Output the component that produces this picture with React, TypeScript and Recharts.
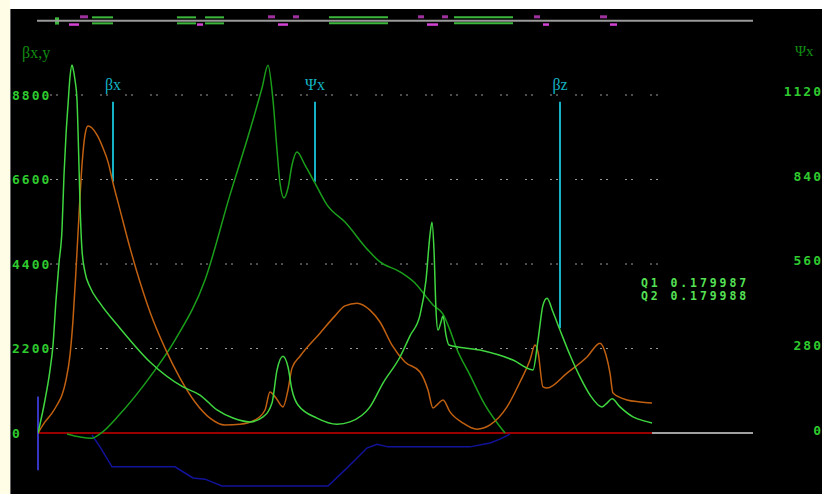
import { ComposedChart, Line, XAxis, YAxis, ReferenceLine, ReferenceArea, ReferenceDot } from 'recharts';

const S_MAX = 71.5;
const DATA_END = 61.4;

const leftTicks = [0, 2200, 4400, 6600, 8800];
const psiTicks = [0, 280, 560, 840, 1120];

// [s, value] pairs, beta in left axis units
const betaX: [number, number][] = [
  [0, 0], [0.7, 290], [1.4, 520], [1.9, 730], [2.4, 990], [2.8, 1380], [3.2, 2030], [3.5, 2940],
  [3.8, 4240], [4.1, 5680], [4.4, 6980], [4.7, 7760], [5.0, 7990], [5.4, 7940], [5.9, 7760],
  [6.5, 7420], [7.0, 7060], [7.5, 6510], [8.2, 5810], [9.2, 4820], [10.2, 3930], [11.2, 3150],
  [12.7, 2210], [14.2, 1430], [15.7, 810], [17.2, 390], [18.7, 210], [20.2, 230], [21.7, 340],
  [22.7, 600], [23.2, 1070], [23.8, 910], [24.5, 680], [25.0, 1120], [25.4, 1690], [26.2, 2000],
  [28.2, 2600], [29.7, 3050], [30.7, 3310], [31.9, 3380], [33.2, 3200], [34.2, 2890], [35.4, 2290],
  [36.7, 1850], [38.2, 1590], [39.0, 1120], [39.5, 650], [40.0, 760], [40.5, 860], [41.2, 550],
  [42.5, 260], [43.9, 100], [45.2, 210], [46.9, 680], [48.2, 1330], [49.2, 1900], [49.7, 2290],
  [50.0, 2110], [50.5, 1200], [50.9, 1170], [52.9, 1560], [54.9, 1980], [56.2, 2340], [56.8, 2030],
  [57.2, 1560], [57.5, 1040], [58.9, 860], [60.2, 810], [61.4, 780],
];

const betaZ: [number, number][] = [
  [0, 0], [0.7, 860], [1.2, 1640], [1.5, 2290], [1.8, 3460], [2.1, 4430], [2.4, 5290], [2.6, 6720],
  [2.8, 7760], [3.0, 8540], [3.2, 9270], [3.4, 9580], [3.5, 9500], [3.7, 9190], [3.9, 8670],
  [4.0, 7890], [4.1, 6930], [4.2, 5990], [4.4, 4760], [4.7, 4190], [5.2, 3800], [6.2, 3380],
  [8.2, 2730], [11.2, 1850], [14.5, 1200], [16.2, 990], [17.9, 600], [19.5, 390], [21.2, 290],
  [22.5, 420], [23.4, 780], [23.9, 1640], [24.5, 2000], [25.0, 1720], [25.4, 1120], [26.0, 730],
  [27.9, 390], [29.9, 230], [31.2, 290], [33.2, 680], [34.5, 1300], [36.2, 1980], [37.2, 2530],
  [38.2, 3070], [38.8, 3980], [39.2, 5160], [39.4, 5490], [39.6, 4760], [39.8, 3200], [40.0, 2680],
  [40.3, 2890], [40.5, 3050], [40.8, 2550], [41.1, 2290], [44.2, 2160], [47.5, 1900], [49.5, 1640],
  [50.0, 2420], [50.5, 3330], [50.9, 3510], [51.5, 3150], [52.2, 2680], [53.2, 2030], [54.2, 1460],
  [55.2, 990], [56.4, 680], [56.9, 780], [57.4, 890], [58.2, 680], [59.5, 420], [60.7, 310], [61.4, 260],
];

// phase advance, right axis units
const psiX: [number, number][] = [
  [2.9, -13], [4.2, -23], [5.4, -27], [6.2, -13], [8.2, 53], [11.2, 176], [13.7, 298], [16.7, 497],
  [19.2, 779], [21.2, 994], [22.4, 1133], [23.0, 1209], [23.5, 1093], [23.9, 928], [24.2, 818],
  [24.6, 769], [25.0, 802], [25.4, 878], [25.9, 921], [26.7, 878], [27.7, 818], [28.9, 746],
  [30.7, 689], [33.0, 596], [34.2, 557], [36.2, 524], [37.9, 480], [38.7, 447], [39.5, 414],
  [40.5, 384], [41.2, 331], [41.8, 275], [43.2, 182], [44.7, 83], [45.7, 33], [46.7, -10],
];

const dispersion: [number, number][] = [
  [5.4, -50], [6.2, -360], [7.4, -880], [13.7, -880], [14.7, -1040], [15.5, -1170], [16.7, -1200],
  [18.4, -1380], [29.0, -1380], [30.7, -960], [32.9, -390], [33.9, -290], [35.0, -360], [43.2, -360],
  [45.2, -260], [46.2, -160], [47.2, -30],
];

// lattice along the top
const quads: [number, number][] = [[5.4, 7.5], [13.9, 15.8], [16.7, 18.6], [29.1, 35.0], [41.6, 47.5]];
const upperKicks: [number, number][] = [[4.2, 5.0], [23.0, 23.7], [25.5, 26.1], [38.0, 38.6], [40.4, 41.0], [49.6, 50.2], [56.2, 56.9]];
const lowerKicks: [number, number][] = [[3.1, 4.1], [15.9, 16.5], [24.0, 25.0], [38.9, 40.0], [50.5, 51.1], [57.2, 57.9]];

const markers = [
  { name: 'βx', s: 7.5, end: 6540 },
  { name: 'Ψx', s: 27.7, end: 6540 },
  { name: 'βz', s: 52.2, end: 2730 },
];

const tunes = [['Q1', '0.179987'], ['Q2', '0.179988']];

const rows = (pts: [number, number][]) => pts.map(([s, v]) => ({ s, v }));

const MONO = '"DejaVu Sans Mono", monospace';
const SERIF = '"Liberation Serif", "DejaVu Serif", serif';
const TICK_GREEN = '#2fca2f';
const CYAN = '#14b2c4';
const MARK_TOP = 8624;
const LAT = { axis: 10735, boxTop: 10822, boxBottom: 10665, upper: 10836, lower: 10634 };

function LeftTick({ y, payload }: any) {
  return (
    <text x={12} y={y} dy={4.5} fill={TICK_GREEN} fontFamily={MONO} fontWeight="bold" fontSize={13} letterSpacing={2}>
      {payload.value}
    </text>
  );
}

function RightTick({ y, payload }: any) {
  return (
    <text x={823} y={y} dy={4.5} textAnchor="end" fill={TICK_GREEN} fontFamily={MONO} fontWeight="bold" fontSize={13} letterSpacing={2}>
      {payload.value}
    </text>
  );
}

export default function App() {
  return (
    <div style={{ position: 'fixed', left: 0, top: 0, width: 822, height: 494, background: '#fff', overflow: 'hidden' }}>
      <div style={{ position: 'absolute', left: 0, top: 0, width: 10, height: 494, background: '#fffde6' }} />
      <div style={{ position: 'absolute', left: 10, top: 9, right: 0, bottom: 0, background: '#000', borderLeft: '1px solid #666' }} />
      <div style={{ position: 'absolute', left: 0, top: 0 }}>
        <ComposedChart width={822} height={495} margin={{ top: 10.5, right: 0, bottom: 0.5, left: 0 }}>
          <XAxis type="number" dataKey="s" domain={[0, S_MAX]} hide allowDataOverflow />
          <YAxis
            yAxisId="left"
            width={38}
            domain={[-1600, 11000]}
            ticks={leftTicks}
            interval={0}
            axisLine={false}
            tickLine={false}
            tick={LeftTick}
            allowDataOverflow
          />
          <YAxis
            yAxisId="psi"
            orientation="right"
            width={69}
            domain={[-213.7, 1390]}
            ticks={psiTicks}
            interval={0}
            axisLine={false}
            tickLine={false}
            tick={RightTick}
            allowDataOverflow
          />

          {leftTicks.filter((t) => t > 0).map((t) => (
            <ReferenceLine
              key={t}
              yAxisId="left"
              segment={[{ x: 1.2, y: t }, { x: 62, y: t }]}
              stroke="#9a9a9a"
              strokeDasharray="2 4 2 17"
            />
          ))}

          {/* lattice */}
          <ReferenceLine yAxisId="left" segment={[{ x: -0.1, y: LAT.axis }, { x: S_MAX, y: LAT.axis }]} stroke="#9a9a9a" strokeWidth={2} ifOverflow="visible" />
          <ReferenceArea yAxisId="left" x1={1.7} x2={2.1} y1={LAT.lower} y2={LAT.boxTop} fill="#3cb83c" fillOpacity={1} stroke="none" ifOverflow="visible" />
          {quads.map(([a, b], i) => [
            <ReferenceLine key={`qt${i}`} yAxisId="left" segment={[{ x: a, y: LAT.boxTop }, { x: b, y: LAT.boxTop }]} stroke="#3cb83c" strokeWidth={2} />,
            <ReferenceLine key={`qb${i}`} yAxisId="left" segment={[{ x: a, y: LAT.boxBottom }, { x: b, y: LAT.boxBottom }]} stroke="#3cb83c" strokeWidth={2} />,
          ])}
          {upperKicks.map(([a, b], i) => (
            <ReferenceLine key={`u${i}`} yAxisId="left" segment={[{ x: a, y: LAT.upper }, { x: b, y: LAT.upper }]} stroke="#a032a0" strokeWidth={3} />
          ))}
          {lowerKicks.map(([a, b], i) => (
            <ReferenceLine key={`l${i}`} yAxisId="left" segment={[{ x: a, y: LAT.lower }, { x: b, y: LAT.lower }]} stroke="#d444d4" strokeWidth={2.5} />
          ))}

          {/* baseline */}
          <ReferenceLine yAxisId="left" segment={[{ x: 0, y: 0 }, { x: DATA_END, y: 0 }]} stroke="#990000" strokeWidth={2} />
          <ReferenceLine yAxisId="left" segment={[{ x: DATA_END, y: 0 }, { x: S_MAX, y: 0 }]} stroke="#a0a0a0" strokeWidth={2} />
          <ReferenceLine yAxisId="left" segment={[{ x: 0, y: 950 }, { x: 0, y: -970 }]} stroke="#3636c2" strokeWidth={2} />

          {/* markers */}
          {markers.map((m) => (
            <ReferenceLine key={m.name} yAxisId="left" segment={[{ x: m.s, y: MARK_TOP }, { x: m.s, y: m.end }]} stroke={CYAN} strokeWidth={2} />
          ))}
          {markers.map((m) => (
            <ReferenceDot
              key={`d${m.name}`}
              yAxisId="left"
              x={m.s}
              y={MARK_TOP}
              r={0}
              fill="none"
              stroke="none"
              label={{ value: m.name, position: 'top', offset: 12, fill: CYAN, fontSize: 16, fontFamily: SERIF }}
            />
          ))}

          <Line yAxisId="left" data={rows(dispersion)} dataKey="v" type="linear" stroke="#12129a" strokeWidth={1.5} dot={false} isAnimationActive={false} />
          <Line yAxisId="psi" data={rows(psiX)} dataKey="v" type="monotone" stroke="#1a9e1a" strokeWidth={1.5} dot={false} isAnimationActive={false} />
          <Line yAxisId="left" data={rows(betaX)} dataKey="v" type="monotone" stroke="#c06010" strokeWidth={1.5} dot={false} isAnimationActive={false} />
          <Line yAxisId="left" data={rows(betaZ)} dataKey="v" type="monotone" stroke="#3fd63f" strokeWidth={1.5} dot={false} isAnimationActive={false} />
        </ComposedChart>
      </div>
      <svg width={822} height={494} style={{ position: 'absolute', left: 0, top: 0, pointerEvents: 'none' }}>
        <text x={22} y={58} fill="#128c12" fontFamily={SERIF} fontSize={16}>βx,y</text>
        <text x={795} y={56} fill="#128c12" fontFamily={SERIF} fontSize={15}>Ψx</text>
        {tunes.map(([q, v], i) => (
          <text key={q} x={641} y={287 + i * 12.5} fill="#55e055" fontFamily={MONO} fontWeight="bold" fontSize={11.5} letterSpacing={2.9}>
            {`${q} ${v}`}
          </text>
        ))}
      </svg>
    </div>
  );
}
